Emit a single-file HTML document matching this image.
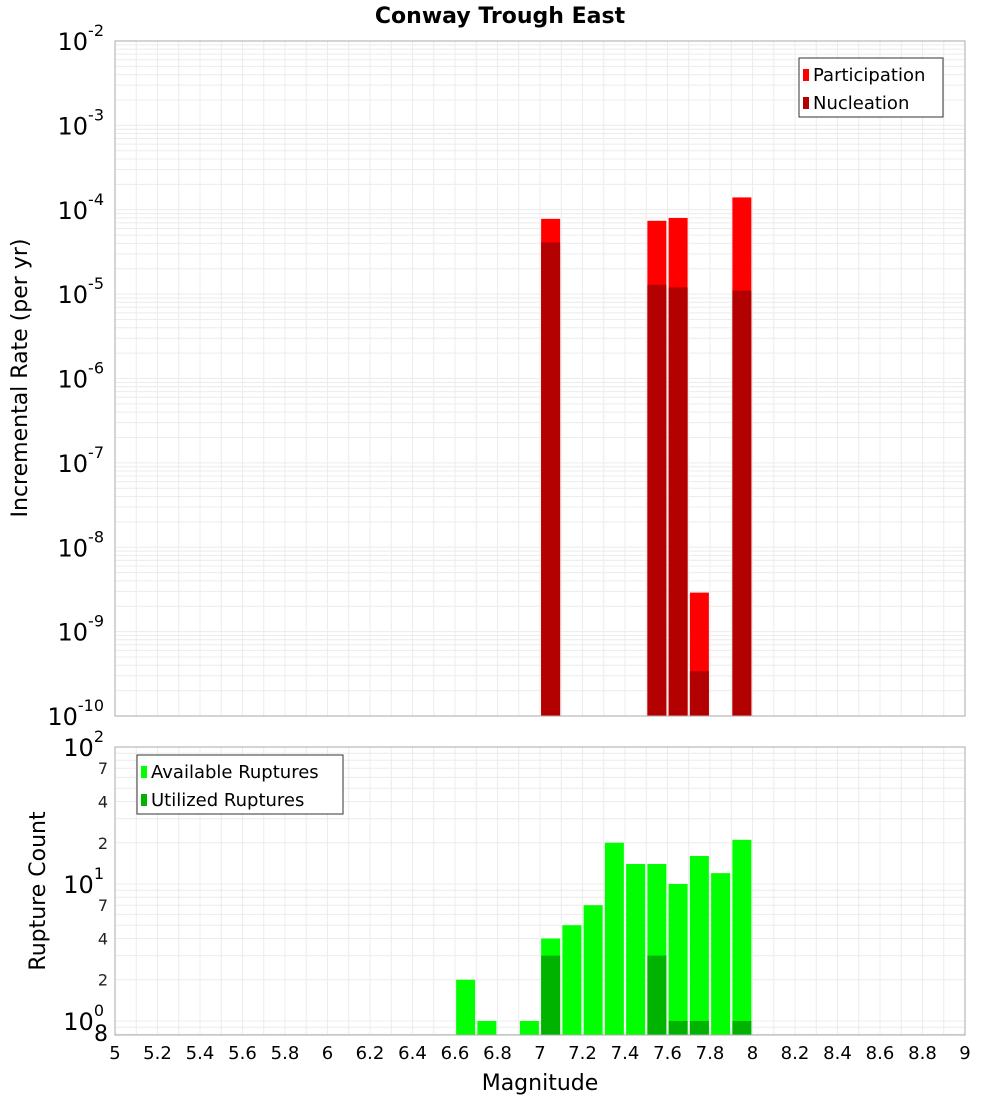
<!DOCTYPE html>
<html><head><meta charset="utf-8"><style>
body{margin:0;background:#fff;font-family:"Liberation Sans","DejaVu Sans",sans-serif;}
svg text{font-family:"DejaVu Sans","Liberation Sans",sans-serif;}
</style></head><body>
<svg id="c" width="1000" height="1100" xmlns="http://www.w3.org/2000/svg">
<rect width="1000" height="1100" fill="#fff"/>
<text x="500" y="23" text-anchor="middle" font-size="22" font-weight="bold">Conway Trough East</text>
<g id="topPlot"></g><g id="botPlot"></g>
</svg>
<script>
const mags=[7.05,7.55,7.65,7.75,7.95];
const participation=[7.8e-5,7.4e-5,8.0e-5,2.9e-9,1.4e-4];
const nucleation=[4.1e-5,1.29e-5,1.2e-5,3.4e-10,1.1e-5];
const cmags=[6.65,6.75,6.95,7.05,7.15,7.25,7.35,7.45,7.55,7.65,7.75,7.85,7.95];
const available=[2,1,1,4,5,7,20,14,14,10,16,12,21];
const umags=[7.05,7.55,7.65,7.75,7.95];
const utilized=[3,3,1,1,1];
const xTicks=[5,5.2,5.4,5.6,5.8,6,6.2,6.4,6.6,6.8,7,7.2,7.4,7.6,7.8,8,8.2,8.4,8.6,8.8,9];

const NS='http://www.w3.org/2000/svg';
const X0=115,X1=965;
const xs=m=>X0+(m-5)/4*(X1-X0);
const T0=41,T1=716;
const yT=v=>T0+(-2-Math.log10(v))/8*(T1-T0);
const B0=747,B1=1035,BMIN=Math.log10(0.79);
const yB=v=>B0+(2-Math.log10(v))/(2-BMIN)*(B1-B0);
function el(p,t,a){const e=document.createElementNS(NS,t);for(const k in a)e.setAttribute(k,a[k]);p.appendChild(e);return e;}
const gTop=document.getElementById('topPlot'),gBot=document.getElementById('botPlot');
for(const m of xTicks.concat(xTicks.slice(0,-1).map(v=>v+0.1))){
  const l1=el(gTop,'line',{x1:xs(m),x2:xs(m),y1:T0,y2:T1,stroke:'#ececec'});
  
  
  const l2=el(gBot,'line',{x1:xs(m),x2:xs(m),y1:B0,y2:B1,stroke:'#ececec'});
  
  
}
for(let e=-10;e<-2;e++)for(let k=1;k<10;k++){const y=yT(k*Math.pow(10,e));
  const l=el(gTop,'line',{x1:X0,x2:X1,y1:y,y2:y,stroke:'#ececec'});
  
  }
for(let e=-1;e<2;e++)for(let k=1;k<10;k++){const v=k*Math.pow(10,e);if(v<0.79)continue;const y=yB(v);
  const l=el(gBot,'line',{x1:X0,x2:X1,y1:y,y2:y,stroke:'#ececec'});
  
  }
const bw=19;
mags.forEach((m,i)=>{
  const r=el(gTop,'rect',{x:xs(m)-bw/2,y:yT(participation[i]),width:bw,height:T1-yT(participation[i]),fill:'#ff0000'});
  
  
  const n=el(gTop,'rect',{x:xs(m)-bw/2,y:yT(nucleation[i]),width:bw,height:T1-yT(nucleation[i]),fill:'#b30000'});
  
  
});
cmags.forEach((m,i)=>{
  const r=el(gBot,'rect',{x:xs(m)-bw/2,y:yB(available[i]),width:bw,height:B1-yB(available[i]),fill:'#00ff00'});
  
  
});
umags.forEach((m,i)=>{
  const r=el(gBot,'rect',{x:xs(m)-bw/2,y:yB(utilized[i]),width:bw,height:B1-yB(utilized[i]),fill:'#00b300'});
  
  
});
const f1=el(gTop,'rect',{x:X0,y:T0,width:X1-X0,height:T1-T0,fill:'none',stroke:'#aaa'});


const f2=el(gBot,'rect',{x:X0,y:B0,width:X1-X0,height:B1-B0,fill:'none',stroke:'#aaa'});


for(let e=-2;e>=-10;e--){const y=yT(Math.pow(10,e));
  const t=el(gTop,'text',{x:104,y:y+9,'text-anchor':'end','font-size':24});
  
  
  t.textContent='10';const s=el(t,'tspan',{dy:-14,'font-size':16});s.textContent=String(e);}
for(let e=0;e<=2;e++){const y=yB(Math.pow(10,e));
  const t=el(gBot,'text',{x:104,y:y+9,'text-anchor':'end','font-size':24});
  
  
  t.textContent='10';const s=el(t,'tspan',{dy:-14,'font-size':16});s.textContent=String(e);}
const minor=[[7,1],[4,1],[2,1],[7,0],[4,0],[2,0]];
minor.forEach(([k,e])=>{const t=el(gBot,'text',{x:108,y:yB(k*Math.pow(10,e))+6,'text-anchor':'end','font-size':16,fill:'#222'});
  
  
  t.textContent=k;});
const t8=el(gBot,'text',{x:108,y:1041,'text-anchor':'end','font-size':22});


t8.textContent='8';
xTicks.forEach(m=>{const t=el(gBot,'text',{x:xs(m),y:1059,'text-anchor':'middle','font-size':18});
  
  
  t.textContent=m;});
const xt=el(gBot,'text',{x:540,y:1090,'text-anchor':'middle','font-size':22});


xt.textContent='Magnitude';
const yt1=el(gTop,'text',{x:27,y:378,'text-anchor':'middle','font-size':22,transform:'rotate(-90 27 378)'});


yt1.textContent='Incremental Rate (per yr)';
const yt2=el(gBot,'text',{x:45,y:891,'text-anchor':'middle','font-size':22,transform:'rotate(-90 45 891)'});


yt2.textContent='Rupture Count';
function legend(g,x0,y0,w,items){const b=el(g,'rect',{x:x0,y:y0,width:w,height:59,fill:'#fff',stroke:'#333'});
  
  
  items.forEach(([c,l],i)=>{const r=el(g,'rect',{x:x0+4,y:y0+11+i*28,width:6,height:12,fill:c});
    
    
    const t=el(g,'text',{x:x0+14,y:y0+23+i*28,'font-size':18});
    
    
    t.textContent=l;});}
legend(gTop,799,58,144,[['#ff0000','Participation'],['#b30000','Nucleation']]);
legend(gBot,137,755,206,[['#00ff00','Available Ruptures'],['#00b300','Utilized Ruptures']]);
</script>
</body></html>
